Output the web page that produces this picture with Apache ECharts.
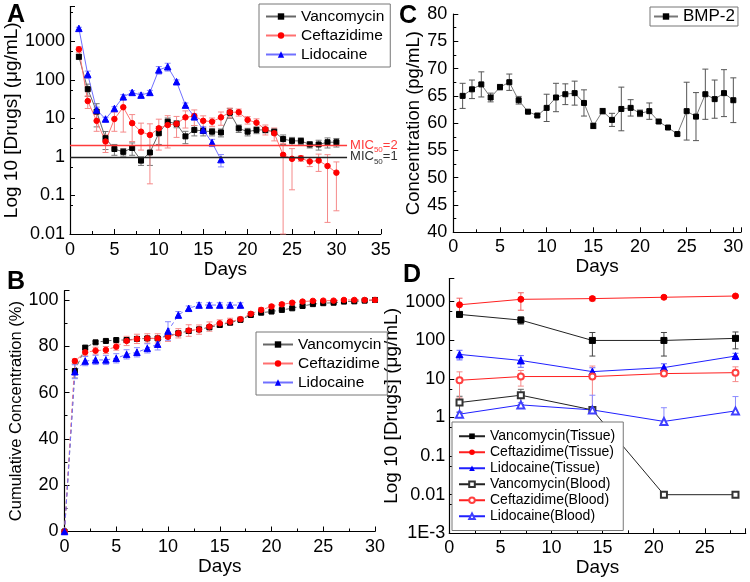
<!DOCTYPE html>
<html><head><meta charset="utf-8">
<script src="https://cdn.jsdelivr.net/npm/echarts@6/dist/echarts.min.js"></script>
<style>html,body{margin:0;padding:0;background:#fff}#c{width:750px;height:582px}</style>
</head><body><div id="c"></div>
<script>
// ---------- DATA ----------
// Panel A: drug release (µg/mL), days
const aDays = [1,2,3,4,5,6,7,8,9,10,11,12,13,14,15,16,17,18,19,20,21,22,23,24,25,26,27,28,29,30];
const aVanc = [395,57,15,3.05,1.6,1.35,1.7,0.8,1.3,4.1,8.2,7.2,3.4,5.0,4.7,4.5,4.3,14,5.5,4.5,5.0,5.0,4.5,2.9,2.6,2.6,2.1,2.1,2.4,2.4];
const aVancSd = [60,20,9,1.5,0.5,0.3,0.6,0.2,0.7,2,2,1.5,1.2,1.5,1.2,1,1,4,1.2,1,1,0.8,0.8,0.8,0.6,0.5,0.4,0.6,0.7,0.6];
const aCeft = [617,28,8.6,2.5,9.6,19.4,7.5,4.5,3.7,5.5,6.7,7.2,10.6,11.5,8.6,8.2,10.6,14.4,14.4,9.1,7.7,5.2,4.1,1.13,0.89,0.92,0.76,0.80,0.58,0.39];
const aCeftSd = [100,10,4,1.2,5,15,5,3,3.5,4,5,4,5,5,3,2,4,4,3,2,2,1.5,1.5,1.12,0.75,0.15,0.2,0.38,0.56,0.35];
const aLidoDays = [1,2,3,4,5,6,7,8,9,10,11,12,13,14,15,16,17];
const aLido = [2150,138,16.5,9.6,18,36,47,40,47,180,218,89,22,11,5,2.35,0.85];
const aLidoSd = [150,30,3,1,2,5,5,5,6,40,50,10,3,2,1,0.5,0.3];
const micLevels = [2, 1];
const micLabels = ['2', '1'];

// Panel B: cumulative concentration (%)
const bDays = [0,1,2,3,4,5,6,7,8,9,10,11,12,13,14,15,16,17,18,19,20,21,22,23,24,25,26,27,28,29,30];
const bVanc = [0,69.3,79.4,81.7,82.3,82.7,82.7,83.2,83.4,83.4,84.6,85.6,86.6,87.3,88.2,89.2,90.2,91.4,93.5,94.5,95.0,95.7,96.4,97.4,98.2,98.6,98.8,99.3,99.4,99.7,100];
const bVancSd = [0,3,1,0.5,0.5,0.5,0.8,0.8,0.8,0.8,1,1,1,0.8,0.8,0.8,0.8,0.6,0.6,0.6,0.5,0.5,0.5,0.5,0.4,0.4,0.4,0.3,0.3,0.3,0.3];
const bCeft = [0,73.6,77.4,78.1,78.4,79.8,82.3,83.2,83.4,83.4,84.1,85.6,86.8,87.2,88.5,89.9,90.6,91.7,94.0,95.7,97.2,98.1,98.8,99.3,99.6,99.7,99.7,100,100,100,100];
const bCeftSd = [0,1,1.5,1.5,1.5,1.5,2,2,2,2,2,2,2.5,2,2,1.5,1.5,1,1,1,0.8,0.8,0.6,0.5,0.5,0.4,0.4,0.3,0.3,0.3,0.3];
const bLidoDays = [0,1,2,3,4,5,6,7,8,9,10,11,12,13,14,15,16,17];
const bLido = [0,69.0,73.6,74.1,74.1,74.8,76.5,77.4,79.1,80.9,86.6,93.5,96.4,97.8,97.8,97.8,97.8,97.8];
const bLidoSd = [0,3,2,2,2,2,2,2,2,2.5,4,1.5,1,1,1,1,1,1];

// Panel C: BMP-2 (pg/mL)
const cDays = [1,2,3,4,5,6,7,8,9,10,11,12,13,14,15,16,17,18,19,20,21,22,23,24,25,26,27,28,29,30];
const cBmp = [65.0,66.2,67.1,64.7,66.6,67.5,64.2,62.1,61.4,62.8,64.7,65.3,65.5,63.7,59.5,62.2,60.6,62.6,62.8,61.8,62.2,60.3,59.2,58.0,62.2,61.2,65.3,64.4,65.5,64.2];
const cBmpSd = [2.3,1.7,2.3,0.8,0.5,1.5,0.7,0.2,0.2,2.5,2.6,1.9,2.2,2.4,0.5,0.5,1.2,4.0,1.5,0.6,1.5,0.3,0.3,0.2,5.3,4.4,4.6,3.5,4.3,4.1];

// Panel D: tissue / blood concentration (µg/mL)
const dDays = [1,7,14,21,28];
const dVancTissue = [467,333,99,99,112];
const dVancTissueSd = [50,70,60,60,52];
const dCeftTissue = [830,1150,1200,1300,1400];
const dCeftTissueSd = [400,550,150,100,100];
const dLidoTissue = [43,30,15.4,19.6,39];
const dLidoTissueSd = [12,10,4,5,7];
const dVancBlood = [2.44,3.77,1.57,0.01,0.01];
const dVancBloodSd = [1.1,1.6,0.2,0,0];
const dCeftBlood = [9.2,11.5,11.5,13.7,14.5];
const dCeftBloodSd = [6,5,10,2,6];
const dLidoBlood = [1.22,2.12,1.57,0.79,1.48];
const dLidoBloodSd = [0.2,0.3,2.2,1.0,2.0];

// ---------- CHART ----------
const FONT = 'Liberation Sans, Arial, sans-serif';
const chart = echarts.init(document.getElementById('c'), null, {renderer:'canvas'});

function pairs(xs, ys){ return xs.map((x,i)=>[x, ys[i]]); }
// lower bar omitted (drawn only upward) when mean - sd falls to or below zero on a log axis
function errData(xs, ys, sds, isLog){
  return xs.map((x,i)=>{
    let lo = ys[i]-sds[i];
    if (isLog && lo <= 0) lo = ys[i];
    return [x, lo, ys[i]+sds[i], (isLog && ys[i]-sds[i] <= 0) ? 0 : 1];
  });
}
function errSeries(xi, xs, ys, sds, color, isLog){
  return {
    type:'custom', xAxisIndex:xi, yAxisIndex:xi, z:1, silent:true,
    data: errData(xs, ys, sds, isLog),
    encode:{x:0, y:[1,2]},
    renderItem:function(params, api){
      const x = api.value(0);
      const lo = api.coord([x, api.value(1)]);
      const hi = api.coord([x, api.value(2)]);
      const hasLow = api.value(3) === 1;
      const w = 3;
      const st = {stroke: color, lineWidth: 1};
      const ch = [
        {type:'line', shape:{x1:lo[0],y1:lo[1],x2:hi[0],y2:hi[1]}, style:st},
        {type:'line', shape:{x1:hi[0]-w,y1:hi[1],x2:hi[0]+w,y2:hi[1]}, style:st}
      ];
      if (hasLow) ch.push({type:'line', shape:{x1:lo[0]-w,y1:lo[1],x2:lo[0]+w,y2:lo[1]}, style:st});
      return {type:'group', children:ch};
    }
  };
}
function logFmt(v){
  const e = Math.log10(v);
  if (Math.abs(e - Math.round(e)) > 1e-6) return '';
  const r = Math.round(e);
  if (r <= -3) return '1E' + r;
  return String(Math.pow(10, r) >= 1 ? Math.round(Math.pow(10, r)) : Number(Math.pow(10, r).toFixed(-r)));
}
function stepFmt(step){ return function(v){ return (Math.abs(v/step - Math.round(v/step)) < 1e-6) ? String(v) : ''; }; }

const axisLine = {lineStyle:{color:'#000', width:1.2}};
const tick = {inside:true, length:5, lineStyle:{color:'#000'}};
const minor = {show:true, splitNumber:2, length:3, lineStyle:{color:'#000'}};
const lbl = {color:'#000', fontSize:18, fontFamily:FONT};
const nameStyle = {color:'#000', fontSize:19, fontFamily:FONT};

function xAx(gi, min, max, step, gap, margin){
  return {type:'value', gridIndex:gi, min:min, max:max, interval:step,
    axisLine:axisLine, axisTick:tick, minorTick:minor, splitLine:{show:false},
    axisLabel:Object.assign({}, lbl, {margin:margin, formatter:stepFmt(step), showMaxLabel:true}),
    name:'Days', nameLocation:'middle', nameGap:gap, nameTextStyle:nameStyle};
}

const grids = [
  {left:70, top:6.5, width:310.8, height:227.5},
  {left:64.5, top:290.7, width:310.5, height:240.8},
  {left:453.3, top:14, width:287.5, height:218.3},
  {left:449.3, top:278.5, width:296.4, height:254.8}
];

const blk='#000', red='#ff0000', blu='#0000ff';
const A_lineV='#666', A_lineC='#ff7070', A_lineL='#7070ff';

function lineS(name, xi, data, color, lineColor, symbol, size, dashed){
  return {type:'line', name:name, xAxisIndex:xi, yAxisIndex:xi, data:data, z:3,
    symbol:symbol, symbolSize:size, showSymbol:true,
    itemStyle:{color:color, borderColor:color},
    lineStyle:{color:lineColor, width:1, type: dashed ? [4,3] : 'solid'},
    animation:false};
}

const micSeries = {type:'line', xAxisIndex:0, yAxisIndex:0, data:[], silent:true,
  markLine:{symbol:'none', silent:true, animation:false,
    data: micLevels.map((lv,i)=>[
      {coord:[0, lv], lineStyle:{color: i===0 ? '#ff3b3b' : '#222', width:1.3, type:'solid'},
       label:{show:true, position:'end', distance:3, formatter:'{a|MIC}{s|50}{a|=' + micLabels[i] + '}',
         rich:{a:{fontSize:13, fontFamily:FONT, color: i===0 ? '#ff3b3b' : '#333'},
               s:{fontSize:8, fontFamily:FONT, color: i===0 ? '#ff3b3b' : '#333', padding:[9,0,0,0]}}}},
      {coord:[31.2, lv]}
    ])}
};

const legBase = {orient:'vertical', borderColor:'#777', borderWidth:1, itemWidth:30, itemHeight:8};

const option = {
  animation:false,
  backgroundColor:'#fff',
  textStyle:{fontFamily:FONT},
  grid: grids,
  xAxis:[
    xAx(0, 0, 35, 5, 24, 7),
    xAx(1, 0, 30, 5, 24, 7),
    xAx(2, 0, 30.8, 5, 21, 6),
    xAx(3, 0, 29, 5, 22, 6)
  ],
  yAxis:[
    {type:'log', gridIndex:0, min:0.01, max:Math.pow(10,3.9), logBase:10,
      axisLine:axisLine, axisTick:tick, minorTick:minor, splitLine:{show:false},
      axisLabel:Object.assign({}, lbl, {margin:5, formatter:logFmt}),
      name:'Log 10 [Drugs] (\u03bcg/mL)', nameLocation:'middle', nameGap:42, nameTextStyle:nameStyle},
    {type:'value', gridIndex:1, min:0, max:104, interval:20,
      axisLine:axisLine, axisTick:tick, minorTick:minor, splitLine:{show:false},
      axisLabel:Object.assign({}, lbl, {margin:6, formatter:stepFmt(20)}),
      name:'Cumulative Concentration (%)', nameLocation:'middle', nameGap:40, nameTextStyle:Object.assign({}, nameStyle, {fontSize:16.5})},
    {type:'value', gridIndex:2, min:40, max:80, interval:5,
      axisLine:axisLine, axisTick:tick, minorTick:minor, splitLine:{show:false},
      axisLabel:Object.assign({}, lbl, {margin:6}),
      name:'Concentration (pg/mL)', nameLocation:'middle', nameGap:22, nameTextStyle:Object.assign({}, nameStyle, {fontSize:18.5})},
    {type:'log', gridIndex:3, min:0.001, max:Math.pow(10,3.6), logBase:10,
      axisLine:axisLine, axisTick:tick, minorTick:minor, splitLine:{show:false},
      axisLabel:Object.assign({}, lbl, {margin:4, formatter:logFmt}),
      name:'Log 10 [Drugs] (\u03bcg/mL)', nameLocation:'middle', nameGap:31, nameTextStyle:nameStyle}
  ],
  legend:[
    Object.assign({}, legBase, {left:259, top:4, padding:[4,6,4,6], itemGap:2,
      textStyle:{fontSize:15.5, lineHeight:17, fontFamily:FONT, color:'#000'},
      data:['Vancomycin','Ceftazidime','Lidocaine']}),
    Object.assign({}, legBase, {left:256, top:332, padding:[4,6,4,6], itemGap:2,
      textStyle:{fontSize:15.5, lineHeight:17, fontFamily:FONT, color:'#000'},
      data:['Vancomycin','Ceftazidime','Lidocaine']}),
    Object.assign({}, legBase, {left:650, top:7, padding:[1,3,1,3], itemWidth:24,
      textStyle:{fontSize:17, fontFamily:FONT, color:'#000'},
      data:['BMP-2']}),
    Object.assign({}, legBase, {left:452, top:422, padding:[7,8,7,6], itemGap:1.5, itemWidth:26, itemHeight:7,
      backgroundColor:'#fff', z:10,
      textStyle:{fontSize:14, lineHeight:14.5, fontFamily:FONT, color:'#000'},
      data:['Vancomycin(Tissue)','Ceftazidime(Tissue)','Lidocaine(Tissue)','Vancomycin(Blood)','Ceftazidime(Blood)','Lidocaine(Blood)']})
  ],
  graphic:[
    {type:'text', left:7, top:3, style:{text:'A', font:'bold 25px ' + FONT, fill:'#000'}},
    {type:'text', left:7, top:270, style:{text:'B', font:'bold 25px ' + FONT, fill:'#000'}},
    {type:'text', left:399, top:4, style:{text:'C', font:'bold 25px ' + FONT, fill:'#000'}},
    {type:'text', left:403, top:263, style:{text:'D', font:'bold 25px ' + FONT, fill:'#000'}}
  ],
  series:[
    // A
    errSeries(0, aDays, aVanc, aVancSd, '#777', true),
    errSeries(0, aDays, aCeft, aCeftSd, '#f58a8a', true),
    errSeries(0, aLidoDays, aLido, aLidoSd, '#8a8aff', true),
    micSeries,
    lineS('Vancomycin', 0, pairs(aDays, aVanc), blk, A_lineV, 'rect', 5, false),
    lineS('Ceftazidime', 0, pairs(aDays, aCeft), red, A_lineC, 'circle', 5.5, false),
    lineS('Lidocaine', 0, pairs(aLidoDays, aLido), blu, A_lineL, 'triangle', 6.5, false),
    // B
    errSeries(1, bDays, bVanc, bVancSd, '#777', false),
    errSeries(1, bDays, bCeft, bCeftSd, '#f58a8a', false),
    errSeries(1, bLidoDays, bLido, bLidoSd, '#8a8aff', false),
    lineS('Vancomycin', 1, pairs(bDays, bVanc), blk, A_lineV, 'rect', 5, true),
    lineS('Ceftazidime', 1, pairs(bDays, bCeft), red, A_lineC, 'circle', 5.5, true),
    lineS('Lidocaine', 1, pairs(bLidoDays, bLido), blu, A_lineL, 'triangle', 6.5, true),
    // C
    errSeries(2, cDays, cBmp, cBmpSd, '#555', false),
    lineS('BMP-2', 2, pairs(cDays, cBmp), blk, '#777', 'rect', 5, false),
    // D
    errSeries(3, dDays, dVancTissue, dVancTissueSd, '#444', true),
    errSeries(3, dDays, dCeftTissue, dCeftTissueSd, '#f06060', true),
    errSeries(3, dDays, dLidoTissue, dLidoTissueSd, '#6060ff', true),
    errSeries(3, dDays, dVancBlood, dVancBloodSd, '#666', true),
    errSeries(3, dDays, dCeftBlood, dCeftBloodSd, '#f58a8a', true),
    errSeries(3, dDays, dLidoBlood, dLidoBloodSd, '#8a8aff', true),
    lineS('Vancomycin(Tissue)', 3, pairs(dDays, dVancTissue), blk, '#222', 'rect', 6, false),
    lineS('Ceftazidime(Tissue)', 3, pairs(dDays, dCeftTissue), red, '#ff2020', 'circle', 6, false),
    lineS('Lidocaine(Tissue)', 3, pairs(dDays, dLidoTissue), blu, '#2020ff', 'triangle', 7, false),
    lineS('Vancomycin(Blood)', 3, pairs(dDays, dVancBlood), '#333', '#222', 'emptyRect', 6, false),
    lineS('Ceftazidime(Blood)', 3, pairs(dDays, dCeftBlood), '#ff4040', '#ff2020', 'emptyCircle', 6, false),
    lineS('Lidocaine(Blood)', 3, pairs(dDays, dLidoBlood), '#4040ff', '#2020ff', 'emptyTriangle', 7, false)
  ]
};
chart.setOption(option);
</script>
</body></html>
